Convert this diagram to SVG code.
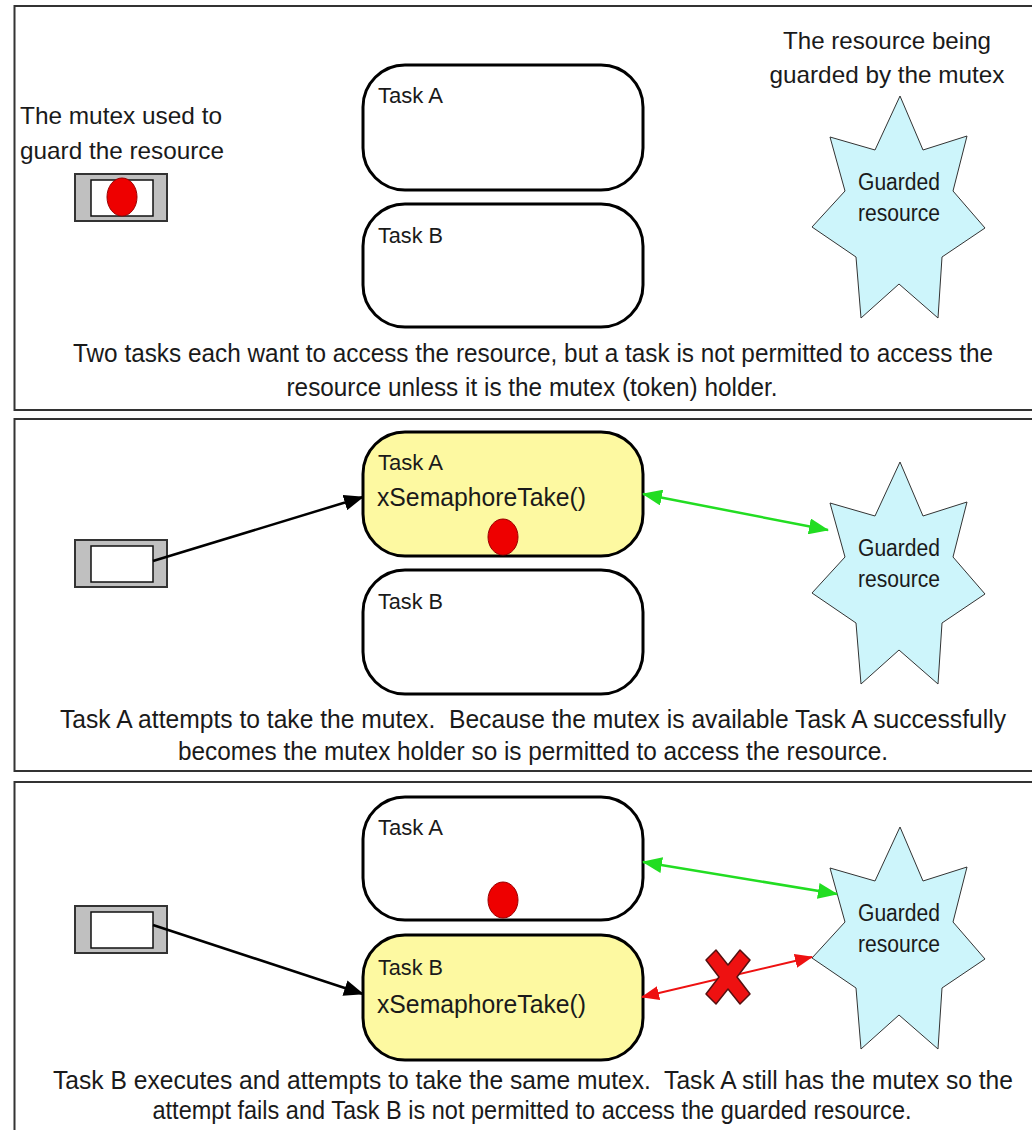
<svg xmlns="http://www.w3.org/2000/svg" width="1032" height="1130" viewBox="0 0 1032 1130">
  <style>
    .panel { fill: none; stroke: #333; stroke-width: 2; }
    .task { fill: #fff; stroke: #000; stroke-width: 3; }
    .task.active { fill: #fdf9a1; }
    .label { font-family: "Liberation Sans", Arial, sans-serif; fill: #1a1a1a; white-space: pre; }
    .tname { font-size: 22px; }
    .call { font-size: 25px; }
    .cap { font-size: 25px; text-anchor: middle; }
    .note { font-size: 24px; }
    .star { fill: #cdf5fb; stroke: #333; stroke-width: 1; }
    .startxt { font-size: 23px; text-anchor: middle; }
    .outer { fill: #c0c0c0; stroke: #333; stroke-width: 2; }
    .inner { fill: #fff; stroke: #111; stroke-width: 1.5; }
    .token { fill: #ee0000; stroke: #990000; stroke-width: 1; }
    .take { stroke: #000; stroke-width: 2.5; fill: none; }
    .grant { stroke: #22dd22; stroke-width: 2.5; fill: none; }
    .deny { stroke: #ee1111; stroke-width: 2; fill: none; }
  </style>
  <defs>
    <marker id="ahBlack" markerUnits="userSpaceOnUse" markerWidth="20" markerHeight="16" refX="19" refY="8" orient="auto">
      <path d="M0,0 L20,8 L0,16 Z" fill="#000"/>
    </marker>
    <marker id="ahGreen" markerUnits="userSpaceOnUse" markerWidth="20" markerHeight="16" refX="19" refY="8" orient="auto-start-reverse">
      <path d="M0,0 L20,8 L0,16 Z" fill="#22dd22"/>
    </marker>
    <marker id="ahRed" markerUnits="userSpaceOnUse" markerWidth="18" markerHeight="14" refX="17" refY="7" orient="auto-start-reverse">
      <path d="M0,0 L18,7 L0,14 Z" fill="#ee1111"/>
    </marker>
    <path id="starShape" class="star" d="M1,-116 L24,-62 L68,-76 L54,-21 L86,16 L43,45 L39,106 L0,72 L-38,106 L-43,45 L-87,15 L-54,-21 L-69,-75 L-24,-62 Z"/>
    <g id="mutex">
      <rect class="outer" x="0" y="0" width="92" height="47"/>
      <rect class="inner" x="16" y="6" width="62" height="36"/>
    </g>
  </defs>

  <rect width="1032" height="1130" fill="#fff"/>

  <!-- Panel 1: initial state -->
  <rect class="panel" x="14.5" y="6" width="1030" height="404"/>
  <g id="p1-mutex">
    <use href="#mutex" x="75" y="174"/>
    <ellipse class="token" cx="122" cy="197" rx="15" ry="19"/>
  </g>
  <g id="p1-mutex-note">
    <text class="label note" x="121" y="124" text-anchor="middle" textLength="202" lengthAdjust="spacingAndGlyphs">The mutex used to</text>
    <text class="label note" x="122" y="159" text-anchor="middle" textLength="204" lengthAdjust="spacingAndGlyphs">guard the resource</text>
  </g>
  <g id="p1-taskA">
    <rect class="task" x="363" y="65" width="280" height="125" rx="42"/>
    <text class="label tname" x="378" y="103" textLength="65" lengthAdjust="spacingAndGlyphs">Task A</text>
  </g>
  <g id="p1-taskB">
    <rect class="task" x="363" y="204" width="280" height="123" rx="42"/>
    <text class="label tname" x="378" y="243" textLength="65" lengthAdjust="spacingAndGlyphs">Task B</text>
  </g>
  <g id="p1-resource">
    <use href="#starShape" transform="translate(899,212)"/>
    <text class="label startxt" x="899" y="190" textLength="82" lengthAdjust="spacingAndGlyphs">Guarded</text>
    <text class="label startxt" x="899" y="221" textLength="82" lengthAdjust="spacingAndGlyphs">resource</text>
  </g>
  <g id="p1-resource-note">
    <text class="label note" x="887" y="49" text-anchor="middle" textLength="208" lengthAdjust="spacingAndGlyphs">The resource being</text>
    <text class="label note" x="887" y="83" text-anchor="middle" textLength="235" lengthAdjust="spacingAndGlyphs">guarded by the mutex</text>
  </g>
  <g id="p1-caption">
    <text class="label cap" x="533" y="362" textLength="920" lengthAdjust="spacingAndGlyphs">Two tasks each want to access the resource, but a task is not permitted to access the</text>
    <text class="label cap" x="532" y="396" textLength="491" lengthAdjust="spacingAndGlyphs">resource unless it is the mutex (token) holder.</text>
  </g>

  <!-- Panel 2: Task A takes the mutex -->
  <rect class="panel" x="14.5" y="419" width="1030" height="352"/>
  <g id="p2-mutex">
    <use href="#mutex" x="75" y="540"/>
  </g>
  <g id="p2-taskA">
    <rect class="task active" x="363" y="432" width="280" height="124" rx="42"/>
    <text class="label tname" x="378" y="470" textLength="65" lengthAdjust="spacingAndGlyphs">Task A</text>
    <text class="label call" x="377" y="506" textLength="209" lengthAdjust="spacingAndGlyphs">xSemaphoreTake()</text>
    <ellipse class="token" cx="503" cy="537" rx="15" ry="18"/>
  </g>
  <g id="p2-taskB">
    <rect class="task" x="363" y="570" width="280" height="124" rx="42"/>
    <text class="label tname" x="378" y="609" textLength="65" lengthAdjust="spacingAndGlyphs">Task B</text>
  </g>
  <g id="p2-resource">
    <use href="#starShape" transform="translate(899,578)"/>
    <text class="label startxt" x="899" y="556" textLength="82" lengthAdjust="spacingAndGlyphs">Guarded</text>
    <text class="label startxt" x="899" y="587" textLength="82" lengthAdjust="spacingAndGlyphs">resource</text>
  </g>
  <g id="p2-caption">
    <text class="label cap" x="533" y="728" textLength="946" lengthAdjust="spacingAndGlyphs">Task A attempts to take the mutex.  Because the mutex is available Task A successfully</text>
    <text class="label cap" x="533" y="760" textLength="710" lengthAdjust="spacingAndGlyphs">becomes the mutex holder so is permitted to access the resource.</text>
  </g>

  <!-- Panel 3: Task B tries the same mutex -->
  <rect class="panel" x="14.5" y="782" width="1030" height="360"/>
  <g id="p3-mutex">
    <use href="#mutex" x="75" y="906"/>
  </g>
  <g id="p3-taskA">
    <rect class="task" x="363" y="797" width="280" height="123" rx="42"/>
    <text class="label tname" x="378" y="835" textLength="65" lengthAdjust="spacingAndGlyphs">Task A</text>
    <ellipse class="token" cx="503" cy="900" rx="15" ry="18"/>
  </g>
  <g id="p3-taskB">
    <rect class="task active" x="363" y="935" width="280" height="125" rx="42"/>
    <text class="label tname" x="378" y="975" textLength="65" lengthAdjust="spacingAndGlyphs">Task B</text>
    <text class="label call" x="377" y="1013" textLength="209" lengthAdjust="spacingAndGlyphs">xSemaphoreTake()</text>
  </g>
  <g id="p3-resource">
    <use href="#starShape" transform="translate(899,943)"/>
    <text class="label startxt" x="899" y="921" textLength="82" lengthAdjust="spacingAndGlyphs">Guarded</text>
    <text class="label startxt" x="899" y="952" textLength="82" lengthAdjust="spacingAndGlyphs">resource</text>
  </g>
  <g id="p3-caption">
    <text class="label cap" x="533" y="1089" textLength="960" lengthAdjust="spacingAndGlyphs">Task B executes and attempts to take the same mutex.  Task A still has the mutex so the</text>
    <text class="label cap" x="532" y="1119" textLength="759" lengthAdjust="spacingAndGlyphs">attempt fails and Task B is not permitted to access the guarded resource.</text>
  </g>

  <!-- Connectors -->
  <g id="connectors">
    <line class="take" x1="153" y1="561" x2="363" y2="497" marker-end="url(#ahBlack)"/>
    <line class="grant" x1="643" y1="494" x2="828" y2="530" marker-start="url(#ahGreen)" marker-end="url(#ahGreen)"/>
    <line class="take" x1="153" y1="925" x2="363" y2="994" marker-end="url(#ahBlack)"/>
    <line class="grant" x1="643" y1="862" x2="837" y2="894" marker-start="url(#ahGreen)" marker-end="url(#ahGreen)"/>
    <line class="deny" x1="642" y1="997" x2="812" y2="957" marker-start="url(#ahRed)" marker-end="url(#ahRed)"/>
  </g>

  <!-- Access refused mark -->
  <g id="p3-refused">
    <path d="M-22,-17 L-12,-27 L0,-12 L12,-27 L22,-17 L9,0 L22,17 L12,27 L0,12 L-12,27 L-22,17 L-9,0 Z" transform="translate(728,977)" fill="#ee1111" stroke="#551111" stroke-width="1.5" stroke-linejoin="round"/>
  </g>
</svg>
